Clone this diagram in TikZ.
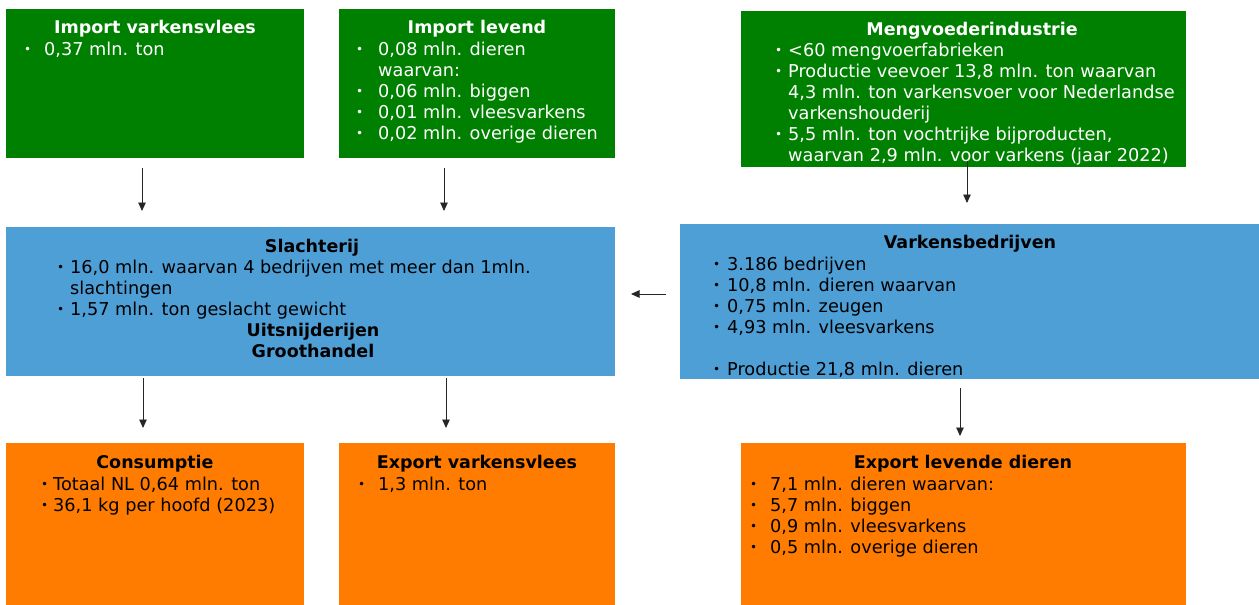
\documentclass[tikz,border=0pt]{standalone}
\usepackage{fontspec}
\setmainfont{DejaVu Sans}
\usetikzlibrary{arrows.meta}
\definecolor{grn}{HTML}{008000}
\definecolor{blu}{HTML}{4F9FD7}
\definecolor{org}{HTML}{FF7C00}
\newcommand\dotb{\raisebox{1.8pt}{\fontsize{12}{12}\selectfont\textbullet}}
\newcommand\bu[2]{\makebox[#1pt][l]{\dotb}#2}
\newcommand\ct[2]{\hspace*{#1pt}#2}
\tikzset{
  box/.style={inner sep=0pt, outer sep=0pt, draw=none, anchor=north west},
  txt/.style={inner sep=0pt, anchor=base west, font=\fontsize{17.7}{21}\selectfont},
  ttl/.style={inner sep=0pt, anchor=base, font=\bfseries\fontsize{17.5}{21}\selectfont},
  arr/.style={line width=0.9pt, draw=black!85, -{Triangle[width=7.5pt,length=8.5pt]}}
}
\begin{document}
\begin{tikzpicture}[x=1pt,y=-1pt]
\useasboundingbox (0,0) rectangle (1259,605);
% boxes
\node[box, fill=grn, minimum width=298pt, minimum height=149pt] (iv) at (6,9) {};
\node[box, fill=grn, minimum width=276pt, minimum height=149pt] (il) at (339,9) {};
\node[box, fill=grn, minimum width=445pt, minimum height=156pt] (mv) at (741,11) {};
\node[box, fill=blu, minimum width=609pt, minimum height=149pt] (sl) at (6,227) {};
\node[box, fill=blu, minimum width=579pt, minimum height=155pt] (vb) at (680,224) {};
\node[box, fill=org, minimum width=298pt, minimum height=162pt] (co) at (6,443) {};
\node[box, fill=org, minimum width=276pt, minimum height=162pt] (ev) at (339,443) {};
\node[box, fill=org, minimum width=445pt, minimum height=162pt] (el) at (741,443) {};
% texts: import varkensvlees
\node[ttl, text=white] (ivt) at (155,34) {Import varkensvlees};
\node[txt, text=white] (ivl) at (24,55.5) {\begin{tabular}[t]{@{}l@{}}\bu{20}{0,37 mln. ton}\end{tabular}};
% import levend
\node[ttl, text=white] (ilt) at (477,34) {Import levend};
\node[txt, text=white] (ill) at (356,55.3) {\begin{tabular}[t]{@{}l@{}}
\bu{22}{0,08 mln. dieren}\\
\ct{22}{waarvan:}\\
\bu{22}{0,06 mln. biggen}\\
\bu{22}{0,01 mln. vleesvarkens}\\
\bu{22}{0,02 mln. overige dieren}
\end{tabular}};
% mengvoeder
\node[ttl, text=white] (mvt) at (972,35) {Mengvoederindustrie};
\node[txt, text=white] (mvl) at (775,56.7) {\begin{tabular}[t]{@{}l@{}}
\bu{13}{<60 mengvoerfabrieken}\\
\bu{13}{Productie veevoer 13,8 mln. ton waarvan}\\
\ct{13}{4,3 mln. ton varkensvoer voor Nederlandse}\\
\ct{13}{varkenshouderij}\\
\bu{13}{5,5 mln. ton vochtrijke bijproducten,}\\
\ct{13}{waarvan 2,9 mln. voor varkens (jaar 2022)}
\end{tabular}};
% slachterij
\node[ttl] (slt) at (312,252) {Slachterij};
\node[txt] (sll) at (57,273) {\begin{tabular}[t]{@{}l@{}}
\bu{13}{16,0 mln. waarvan 4 bedrijven met meer dan 1mln.}\\
\ct{13}{slachtingen}\\
\bu{13}{1,57 mln. ton geslacht gewicht}
\end{tabular}};
\node[ttl] (sls) at (313,336) {\begin{tabular}[t]{@{}c@{}}Uitsnijderijen\\Groothandel\end{tabular}};
% varkensbedrijven
\node[ttl] (vbt) at (970,248) {Varkensbedrijven};
\node[txt] (vbl) at (713,270) {\begin{tabular}[t]{@{}l@{}}
\bu{14}{3.186 bedrijven}\\
\bu{14}{10,8 mln. dieren waarvan}\\
\bu{14}{0,75 mln. zeugen}\\
\bu{14}{4,93 mln. vleesvarkens}\\
\\
\bu{14}{Productie 21,8 mln. dieren}
\end{tabular}};
% consumptie
\node[ttl] (cot) at (155,468) {Consumptie};
\node[txt] (col) at (41,490) {\begin{tabular}[t]{@{}l@{}}
\bu{12}{Totaal NL 0,64 mln. ton}\\
\bu{12}{36,1 kg per hoofd (2023)}
\end{tabular}};
% export varkensvlees
\node[ttl] (evt) at (477,468) {Export varkensvlees};
\node[txt] (evl) at (358,490) {\begin{tabular}[t]{@{}l@{}}\bu{20}{1,3 mln. ton}\end{tabular}};
% export levende dieren
\node[ttl] (elt) at (963,468) {Export levende dieren};
\node[txt] (ell) at (750,490) {\begin{tabular}[t]{@{}l@{}}
\bu{20}{7,1 mln. dieren waarvan:}\\
\bu{20}{5,7 mln. biggen}\\
\bu{20}{0,9 mln. vleesvarkens}\\
\bu{20}{0,5 mln. overige dieren}
\end{tabular}};
% connectors
\coordinate (a1s) at (142,168); \coordinate (a1e) at (142,211);
\coordinate (a2s) at (444,168); \coordinate (a2e) at (444,211);
\coordinate (a3s) at (967,161); \coordinate (a3e) at (967,203);
\coordinate (a4s) at (666,294); \coordinate (a4e) at (631,294);
\coordinate (a5s) at (143,378); \coordinate (a5e) at (143,428);
\coordinate (a6s) at (446,378); \coordinate (a6e) at (446,428);
\coordinate (a7s) at (960,388); \coordinate (a7e) at (960,436);
\draw[arr] (a1s) -- (a1e);
\draw[arr] (a2s) -- (a2e);
\draw[arr] (a3s) -- (a3e);
\draw[arr] (a4s) -- (a4e);
\draw[arr] (a5s) -- (a5e);
\draw[arr] (a6s) -- (a6e);
\draw[arr] (a7s) -- (a7e);
\end{tikzpicture}
\end{document}
